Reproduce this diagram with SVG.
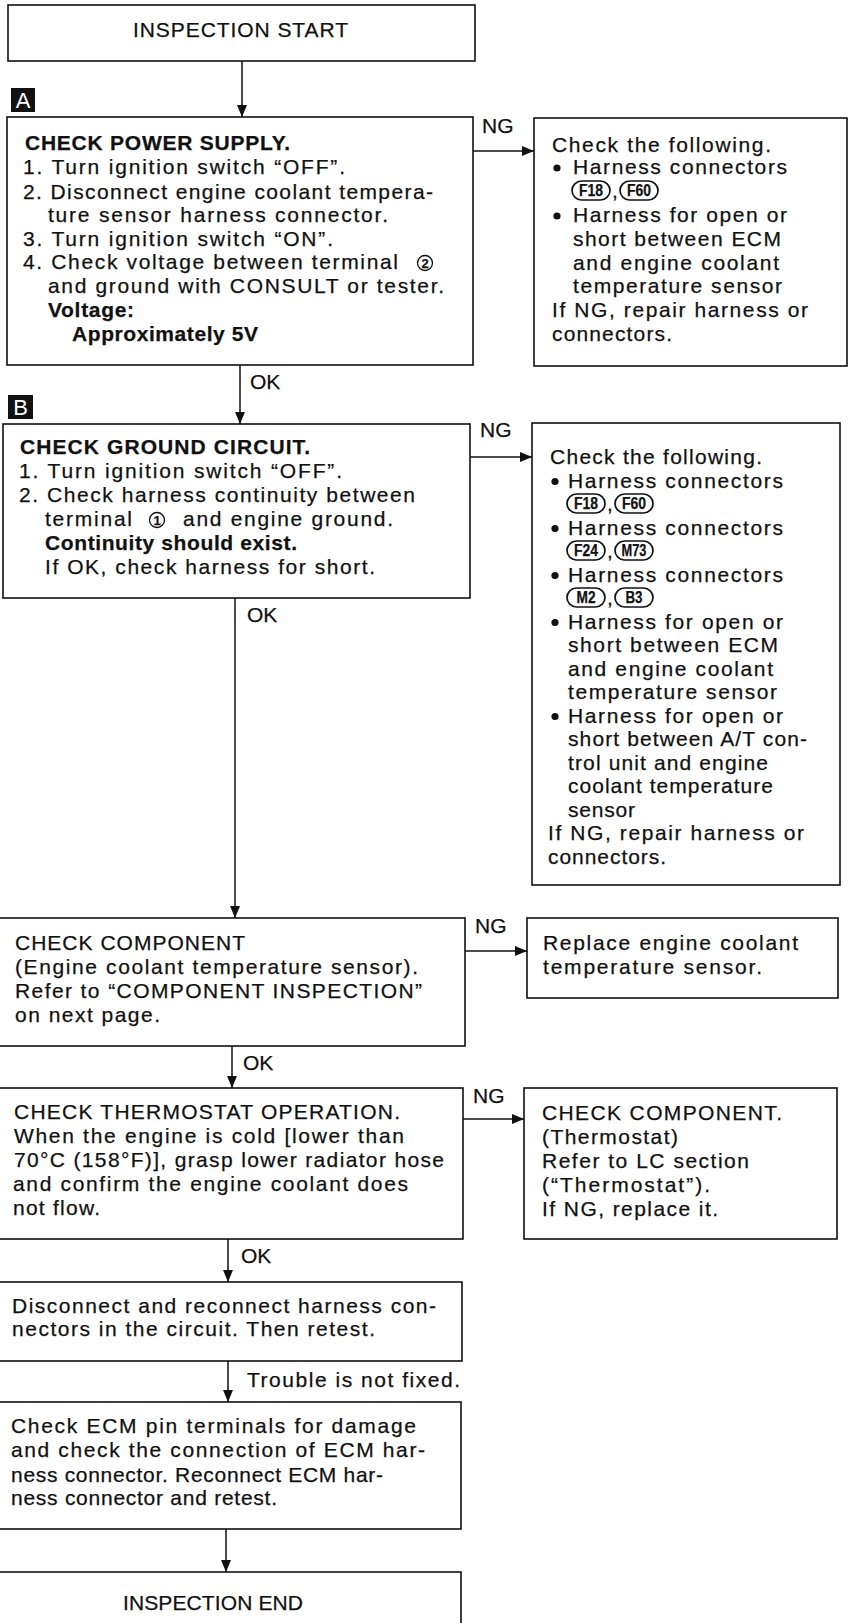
<svg xmlns="http://www.w3.org/2000/svg" width="848" height="1623" viewBox="0 0 848 1623">
  <style>
    text { font-family: "Liberation Sans", Arial, Helvetica, sans-serif; font-size: 21px; fill: #111; stroke: #111; stroke-width: 0.25px; }
    .b { font-weight: bold; }
    .box { fill: #fff; stroke: #111; stroke-width: 1.6; }
    .wire { fill: none; stroke: #111; stroke-width: 1.5; }
    .pill { fill: #fff; stroke: #111; stroke-width: 1.7; }
    .pt { font-size: 16px; font-weight: bold; text-anchor: middle; }
    .ring { fill: none; stroke: #111; stroke-width: 1.3; }
    .rn { font-size: 13px; font-weight: bold; text-anchor: middle; }
    .tag { fill: #111; }
    .tagt { fill: #fff; stroke: none; font-size: 22px; text-anchor: middle; }
    .dot { fill: #111; }
  </style>
  <defs>
    <marker id="ah" viewBox="0 0 12 10" refX="12" refY="5" markerWidth="12" markerHeight="10" markerUnits="userSpaceOnUse" orient="auto">
      <path d="M0,0 L12,5 L0,10 z" fill="#111"/>
    </marker>
  </defs>
  <rect width="848" height="1623" fill="#fff"/>

  <!-- connectors -->
  <g id="connectors">
    <path class="wire" d="M242,61 V117" marker-end="url(#ah)"/>
    <path class="wire" d="M240,365 V424" marker-end="url(#ah)"/>
    <text x="250" y="389">OK</text>
    <path class="wire" d="M235,598 V918" marker-end="url(#ah)"/>
    <text x="247" y="622">OK</text>
    <path class="wire" d="M232,1046 V1088" marker-end="url(#ah)"/>
    <text x="243" y="1070">OK</text>
    <path class="wire" d="M228,1239 V1282" marker-end="url(#ah)"/>
    <text x="241" y="1263">OK</text>
    <path class="wire" d="M228,1361 V1402" marker-end="url(#ah)"/>
    <text x="247" y="1387" textLength="213">Trouble is not fixed.</text>
    <path class="wire" d="M226,1529 V1572" marker-end="url(#ah)"/>

    <path class="wire" d="M473,151 H534" marker-end="url(#ah)"/>
    <text x="482" y="133">NG</text>
    <path class="wire" d="M470,457 H532" marker-end="url(#ah)"/>
    <text x="480" y="437">NG</text>
    <path class="wire" d="M465,951 H527" marker-end="url(#ah)"/>
    <text x="475" y="933">NG</text>
    <path class="wire" d="M463,1119 H524" marker-end="url(#ah)"/>
    <text x="473" y="1103">NG</text>
  </g>

  <!-- start -->
  <g id="start">
    <rect class="box" x="8" y="5" width="467" height="56"/>
    <text x="133" y="37" textLength="215">INSPECTION START</text>
  </g>

  <!-- step A: power supply -->
  <g id="tagA">
    <rect class="tag" x="11" y="88" width="24" height="24"/>
    <text class="tagt" x="23" y="108">A</text>
  </g>
  <g id="powerSupply">
    <rect class="box" x="7" y="117" width="466" height="248"/>
    <text class="b" x="25" y="150" textLength="265">CHECK POWER SUPPLY.</text>
    <text x="23" y="174" textLength="322">1. Turn ignition switch “OFF”.</text>
    <text x="23" y="199" textLength="410">2. Disconnect engine coolant tempera-</text>
    <text x="48" y="222" textLength="340">ture sensor harness connector.</text>
    <text x="23" y="246" textLength="310">3. Turn ignition switch “ON”.</text>
    <text x="23" y="269" textLength="375">4. Check voltage between terminal</text>
    <circle class="ring" cx="425" cy="263" r="7.5"/>
    <text class="rn" x="425" y="268">2</text>
    <text x="48" y="293" textLength="396">and ground with CONSULT or tester.</text>
    <text class="b" x="48" y="317" textLength="86">Voltage:</text>
    <text class="b" x="72" y="341" textLength="186">Approximately 5V</text>
  </g>

  <g id="checkPower">
    <rect class="box" x="534" y="118" width="313" height="248"/>
    <text x="552" y="152" textLength="219">Check the following.</text>
    <circle class="dot" cx="557" cy="168" r="3.6"/>
    <text x="573" y="174" textLength="214">Harness connectors</text>
    <rect class="pill" x="572" y="181" width="38" height="19" rx="9.5"/>
    <text class="pt" x="591" y="196" textLength="24" lengthAdjust="spacingAndGlyphs">F18</text>
    <text x="612" y="198">,</text>
    <rect class="pill" x="620" y="181" width="38" height="19" rx="9.5"/>
    <text class="pt" x="639" y="196" textLength="24" lengthAdjust="spacingAndGlyphs">F60</text>
    <circle class="dot" cx="557" cy="216" r="3.6"/>
    <text x="573" y="222" textLength="214">Harness for open or</text>
    <text x="573" y="246" textLength="208">short between ECM</text>
    <text x="573" y="270" textLength="206">and engine coolant</text>
    <text x="573" y="293" textLength="209">temperature sensor</text>
    <text x="552" y="317" textLength="256">If NG, repair harness or</text>
    <text x="552" y="341" textLength="120">connectors.</text>
  </g>

  <!-- step B: ground circuit -->
  <g id="tagB">
    <rect class="tag" x="8" y="395" width="25" height="24"/>
    <text class="tagt" x="20.5" y="415">B</text>
  </g>
  <g id="groundCircuit">
    <rect class="box" x="3" y="424" width="467" height="174"/>
    <text class="b" x="20" y="454" textLength="290">CHECK GROUND CIRCUIT.</text>
    <text x="19" y="478" textLength="323">1. Turn ignition switch “OFF”.</text>
    <text x="19" y="502" textLength="396">2. Check harness continuity between</text>
    <text x="45" y="526" textLength="87">terminal</text>
    <circle class="ring" cx="157" cy="520" r="7.5"/>
    <text class="rn" x="157" y="525">1</text>
    <text x="183" y="526" textLength="210">and engine ground.</text>
    <text class="b" x="45" y="550" textLength="252">Continuity should exist.</text>
    <text x="45" y="574" textLength="330">If OK, check harness for short.</text>
  </g>

  <g id="checkGround">
    <rect class="box" x="532" y="423" width="308" height="462"/>
    <text x="550" y="464" textLength="212">Check the following.</text>
    <circle class="dot" cx="555" cy="481.5" r="3.6"/>
    <text x="568" y="487.5" textLength="215">Harness connectors</text>
    <rect class="pill" x="567" y="494" width="38" height="19" rx="9.5"/>
    <text class="pt" x="586" y="509" textLength="24" lengthAdjust="spacingAndGlyphs">F18</text>
    <text x="607" y="511">,</text>
    <rect class="pill" x="615" y="494" width="38" height="19" rx="9.5"/>
    <text class="pt" x="634" y="509" textLength="24" lengthAdjust="spacingAndGlyphs">F60</text>
    <circle class="dot" cx="555" cy="528.5" r="3.6"/>
    <text x="568" y="534.5" textLength="215">Harness connectors</text>
    <rect class="pill" x="567" y="541" width="38" height="19" rx="9.5"/>
    <text class="pt" x="586" y="556" textLength="24" lengthAdjust="spacingAndGlyphs">F24</text>
    <text x="607" y="558">,</text>
    <rect class="pill" x="615" y="541" width="38" height="19" rx="9.5"/>
    <text class="pt" x="634" y="556" textLength="25" lengthAdjust="spacingAndGlyphs">M73</text>
    <circle class="dot" cx="555" cy="575.5" r="3.6"/>
    <text x="568" y="581.5" textLength="215">Harness connectors</text>
    <rect class="pill" x="567" y="588" width="38" height="19" rx="9.5"/>
    <text class="pt" x="586" y="603" textLength="19" lengthAdjust="spacingAndGlyphs">M2</text>
    <text x="607" y="605">,</text>
    <rect class="pill" x="615" y="588" width="38" height="19" rx="9.5"/>
    <text class="pt" x="634" y="603" textLength="17" lengthAdjust="spacingAndGlyphs">B3</text>
    <circle class="dot" cx="555" cy="622.5" r="3.6"/>
    <text x="568" y="628.5" textLength="215">Harness for open or</text>
    <text x="568" y="652" textLength="210">short between ECM</text>
    <text x="568" y="675.5" textLength="205">and engine coolant</text>
    <text x="568" y="699" textLength="209">temperature sensor</text>
    <circle class="dot" cx="555" cy="716.5" r="3.6"/>
    <text x="568" y="722.5" textLength="215">Harness for open or</text>
    <text x="568" y="746" textLength="239">short between A/T con-</text>
    <text x="568" y="769.5" textLength="200">trol unit and engine</text>
    <text x="568" y="793" textLength="205">coolant temperature</text>
    <text x="568" y="816.5" textLength="67">sensor</text>
    <text x="548" y="840" textLength="256">If NG, repair harness or</text>
    <text x="548" y="863.5" textLength="118">connectors.</text>
  </g>

  <!-- component check -->
  <g id="component">
    <rect class="box" x="-2" y="918" width="467" height="128"/>
    <text x="15" y="950" textLength="230">CHECK COMPONENT</text>
    <text x="15" y="974" textLength="403">(Engine coolant temperature sensor).</text>
    <text x="15" y="998" textLength="407">Refer to “COMPONENT INSPECTION”</text>
    <text x="15" y="1022" textLength="145">on next page.</text>
  </g>
  <g id="replaceSensor">
    <rect class="box" x="527" y="918" width="311" height="80"/>
    <text x="543" y="950" textLength="255">Replace engine coolant</text>
    <text x="543" y="974" textLength="219">temperature sensor.</text>
  </g>

  <!-- thermostat -->
  <g id="thermostat">
    <rect class="box" x="-2" y="1088" width="465" height="151"/>
    <text x="14" y="1119" textLength="386">CHECK THERMOSTAT OPERATION.</text>
    <text x="14" y="1143" textLength="390">When the engine is cold [lower than</text>
    <text x="14" y="1167" textLength="430">70°C (158°F)], grasp lower radiator hose</text>
    <text x="13" y="1191" textLength="395">and confirm the engine coolant does</text>
    <text x="13" y="1215" textLength="87">not flow.</text>
  </g>
  <g id="thermostatComponent">
    <rect class="box" x="524" y="1088" width="313" height="151"/>
    <text x="542" y="1120" textLength="240">CHECK COMPONENT.</text>
    <text x="542" y="1144" textLength="136">(Thermostat)</text>
    <text x="542" y="1168" textLength="207">Refer to LC section</text>
    <text x="542" y="1192" textLength="168">(“Thermostat”).</text>
    <text x="542" y="1216" textLength="176">If NG, replace it.</text>
  </g>

  <!-- reconnect -->
  <g id="reconnect">
    <rect class="box" x="-2" y="1282" width="464" height="79"/>
    <text x="12" y="1313" textLength="424">Disconnect and reconnect harness con-</text>
    <text x="12" y="1336" textLength="363">nectors in the circuit. Then retest.</text>
  </g>

  <!-- ECM terminals -->
  <g id="ecmTerminals">
    <rect class="box" x="-2" y="1402" width="463" height="127"/>
    <text x="11" y="1433" textLength="405">Check ECM pin terminals for damage</text>
    <text x="11" y="1457" textLength="414">and check the connection of ECM har-</text>
    <text x="11" y="1482" textLength="372">ness connector. Reconnect ECM har-</text>
    <text x="11" y="1505" textLength="266">ness connector and retest.</text>
  </g>

  <!-- end -->
  <g id="end">
    <rect class="box" x="-2" y="1572" width="463" height="60"/>
    <text x="123" y="1610" textLength="180">INSPECTION END</text>
  </g>
</svg>
